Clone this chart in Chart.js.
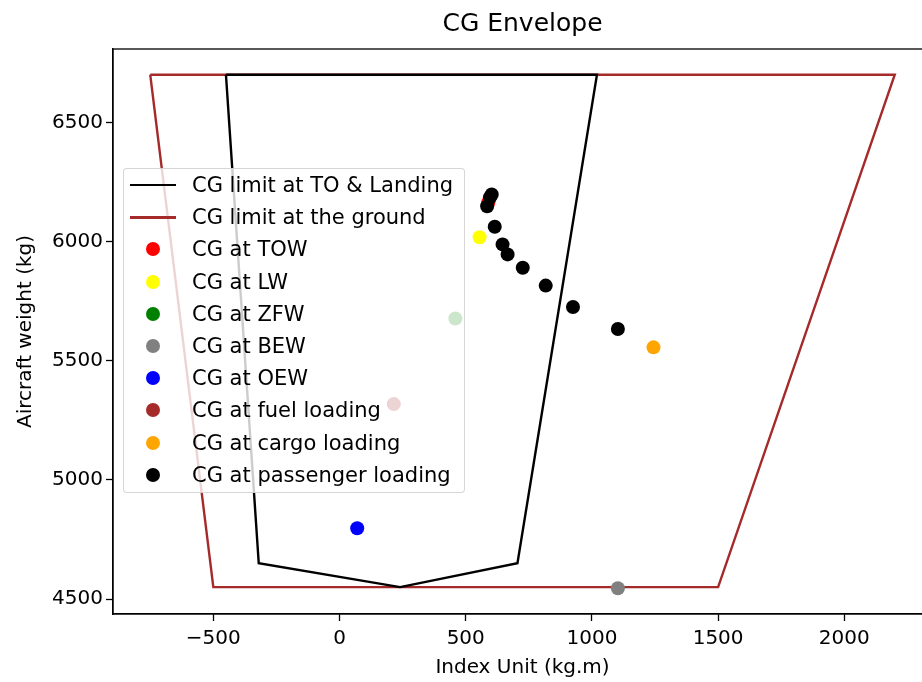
<!DOCTYPE html>
<html>
<head>
<meta charset="utf-8">
<title>CG Envelope</title>
<script src="https://cdn.jsdelivr.net/npm/chart.js@4.4.1/dist/chart.umd.min.js"></script>
<style>
  html, body { margin: 0; padding: 0; background: #fff; overflow: hidden; }
  #wrap { position: relative; width: 940px; height: 682px; }
  #chart { display: block; }
  #legend {
    position: absolute; left: 123px; top: 168px;
    width: 340px; height: 323px;
    background: rgba(255, 255, 255, 0.8);
    border: 1px solid rgba(204, 204, 204, 0.8);
    border-radius: 4px;
    font-family: "DejaVu Sans", sans-serif; font-size: 21px; color: #000;
  }
  #legend .row { display: flex; align-items: center; height: 32.2px; }
  #legend .handle { position: relative; width: 46px; height: 32px; margin-left: 6px; }
  #legend .line { position: absolute; left: 0; right: 0; top: 15px; height: 2.4px; }
  #legend .dot { position: absolute; left: 16px; top: 9px; width: 14px; height: 14px; border-radius: 50%; }
  #legend .text { margin-left: 16px; white-space: nowrap; }
</style>
</head>
<body>
<div id="wrap">
  <canvas id="chart" width="940" height="682"></canvas>
  <div id="legend"></div>
</div>
<script>
// tick labels
const xTicks = [-500, 0, 500, 1000, 1500, 2000];
const yTicks = [4500, 5000, 5500, 6000, 6500];

// envelopes (index unit, weight)
const toLandingX = [-450, 1020, 705, 240, -320, -450];
const toLandingY = [6700, 6700, 4650, 4550, 4650, 6700];
const groundX = [-750, 2200, 1500, -500, -750];
const groundY = [6700, 6700, 4550, 4550, 6700];

// CG points
const towX = [590], towY = [6165];
const lwX = [555], lwY = [6018];
const zfwX = [459], zfwY = [5677];
const bewX = [1103], bewY = [4545];
const oewX = [70], oewY = [4797];
const fuelX = [215], fuelY = [5318];
const cargoX = [1244], cargoY = [5556];
const paxX = [603, 596, 585, 615, 646, 666, 726, 817, 925, 1103];
const paxY = [6197, 6185, 6148, 6062, 5988, 5946, 5890, 5815, 5725, 5633];

const FONT = "DejaVu Sans";

function pts(xs, ys) {
  return xs.map((x, i) => ({ x: x, y: ys[i] }));
}

function lineSet(label, xs, ys, color) {
  return { label, data: pts(xs, ys), showLine: true, borderColor: color, backgroundColor: color,
           borderWidth: 2.4, pointRadius: 0, pointHoverRadius: 0 };
}

function dotSet(label, xs, ys, color) {
  return { label, data: pts(xs, ys), showLine: false, borderColor: color, backgroundColor: color,
           borderWidth: 0, pointRadius: 7, pointHoverRadius: 7 };
}

const datasets = [
  lineSet("CG limit at TO & Landing", toLandingX, toLandingY, "#000000"),
  lineSet("CG limit at the ground", groundX, groundY, "#a52a2a"),
  dotSet("CG at TOW", towX, towY, "#ff0000"),
  dotSet("CG at LW", lwX, lwY, "#ffff00"),
  dotSet("CG at ZFW", zfwX, zfwY, "#008000"),
  dotSet("CG at BEW", bewX, bewY, "#808080"),
  dotSet("CG at OEW", oewX, oewY, "#0000ff"),
  dotSet("CG at fuel loading", fuelX, fuelY, "#a52a2a"),
  dotSet("CG at cargo loading", cargoX, cargoY, "#ffa500"),
  dotSet("CG at passenger loading", paxX, paxY, "#000000"),
];
// later datasets on top, like matplotlib; black limit line sits over the brown one
datasets.forEach((d, i) => { d.order = datasets.length - i; });
datasets[0].order = datasets.length - 1;
datasets[1].order = datasets.length;

// 5% margins around the data, matplotlib style
function margins(values) {
  const lo = Math.min(...values), hi = Math.max(...values);
  const pad = (hi - lo) * 0.05;
  return [lo - pad, hi + pad];
}
const allX = [].concat(toLandingX, groundX, towX, lwX, zfwX, bewX, oewX, fuelX, cargoX, paxX);
const allY = [].concat(toLandingY, groundY, towY, lwY, zfwY, bewY, oewY, fuelY, cargoY, paxY);
const [xMin, xMax] = margins(allX);
const [yMin, yMax] = margins(allY);

const minus = (v) => String(v).replace("-", "\u2212");

// frame + title centred over the axes
const framePlugin = {
  id: "frame",
  afterDraw(chart) {
    const { ctx, chartArea: a } = chart;
    ctx.save();
    ctx.strokeStyle = "#000";
    ctx.lineWidth = 1.3;
    ctx.strokeRect(a.left, a.top, a.right - a.left, a.bottom - a.top);
    ctx.fillStyle = "#000";
    ctx.font = "25px '" + FONT + "'";
    ctx.textAlign = "center";
    ctx.textBaseline = "middle";
    ctx.fillText("CG Envelope", (a.left + a.right) / 2, 24);
    ctx.restore();
  },
};

const ctx = document.getElementById("chart");
const chart = new Chart(ctx, {
  type: "scatter",
  data: { datasets },
  options: {
    responsive: false,
    animation: false,
    devicePixelRatio: 1,
    layout: { padding: { top: 49, left: 0, right: 8, bottom: 0 } },
    plugins: { legend: { display: false }, tooltip: { enabled: false }, title: { display: false } },
    scales: {
      x: {
        type: "linear", min: xMin, max: xMax,
        afterBuildTicks: (s) => { s.ticks = xTicks.map((v) => ({ value: v })); },
        afterFit: (s) => { s.height = 68; },
        grid: { drawOnChartArea: false, tickLength: 7, tickColor: "#000", tickWidth: 1.3 },
        border: { color: "#000", width: 1.3 },
        ticks: { color: "#000", padding: 6, maxRotation: 0, font: { family: FONT, size: 20 }, callback: minus },
        title: { display: true, text: "Index Unit (kg.m)", color: "#000", padding: { top: 0, bottom: 2 },
                 font: { family: FONT, size: 20 } },
      },
      y: {
        type: "linear", min: yMin, max: yMax,
        afterBuildTicks: (s) => { s.ticks = yTicks.map((v) => ({ value: v })); },
        afterFit: (s) => { s.width = 113; },
        grid: { drawOnChartArea: false, tickLength: 7, tickColor: "#000", tickWidth: 1.3 },
        border: { color: "#000", width: 1.3 },
        ticks: { color: "#000", padding: 3, font: { family: FONT, size: 20 }, callback: minus },
        title: { display: true, text: "Aircraft weight (kg)", color: "#000", padding: { top: 14, bottom: 0 },
                 font: { family: FONT, size: 20 } },
      },
    },
  },
  plugins: [framePlugin],
});

// html legend from the chart's datasets
function buildLegend(chart) {
  const el = document.getElementById("legend");
  el.innerHTML = "";
  chart.data.datasets.forEach((ds) => {
    const row = document.createElement("div");
    row.className = "row";
    const handle = document.createElement("span");
    handle.className = "handle";
    const mark = document.createElement("i");
    mark.className = ds.showLine ? "line" : "dot";
    mark.style.background = ds.showLine ? ds.borderColor : ds.backgroundColor;
    handle.appendChild(mark);
    const txt = document.createElement("span");
    txt.className = "text";
    txt.textContent = ds.label;
    row.appendChild(handle);
    row.appendChild(txt);
    el.appendChild(row);
  });
}
buildLegend(chart);
</script>
</body>
</html>
